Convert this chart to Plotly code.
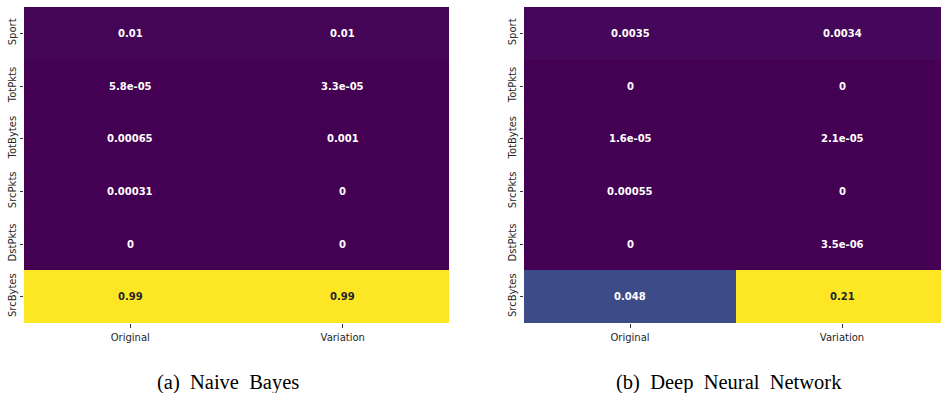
import plotly.graph_objects as go

features = ["Sport", "TotPkts", "TotBytes", "SrcPkts", "DstPkts", "SrcBytes"]
columns = ["Original", "Variation"]

nb_original = [0.01, 5.8e-05, 0.00065, 0.00031, 0, 0.99]
nb_variation = [0.01, 3.3e-05, 0.001, 0, 0, 0.99]

dnn_original = [0.0035, 0, 1.6e-05, 0.00055, 0, 0.048]
dnn_variation = [0.0034, 0, 2.1e-05, 0, 3.5e-06, 0.21]

captions = ["(a)  Naive  Bayes", "(b)  Deep  Neural  Network"]

W, H = 941, 393
# x1 is where the full heatmap would end; the right panel runs past the page edge
panels = [
    dict(orig=nb_original, var=nb_variation, x0=24, x1=449, xa="x", ya="y", cap_x=228),
    dict(orig=dnn_original, var=dnn_variation, x0=524, x1=948, xa="x2", ya="y2", cap_x=729),
]
top, bottom = 7, 323


def text_color(frac):
    # dark text on the light end of viridis, white elsewhere
    return "#262626" if frac > 0.6 else "#ffffff"


fig = go.Figure()
annotations = []
for i, p in enumerate(panels):
    z = [[o, v] for o, v in zip(p["orig"], p["var"])]
    zmin = min(min(r) for r in z)
    zmax = max(max(r) for r in z)
    fig.add_trace(go.Heatmap(
        z=z, x=columns, y=features,
        colorscale="Viridis", zmin=zmin, zmax=zmax,
        showscale=False, xaxis=p["xa"], yaxis=p["ya"], xgap=0, ygap=0,
        hoverinfo="skip",
    ))
    for r, feat in enumerate(features):
        for c, col in enumerate(columns):
            val = z[r][c]
            frac = (val - zmin) / (zmax - zmin) if zmax > zmin else 0
            annotations.append(dict(
                x=col, y=feat, xref=p["xa"], yref=p["ya"],
                text="<b>%s</b>" % format(val, ".2g"),
                showarrow=False,
                font=dict(family="DejaVu Sans", size=10, color=text_color(frac)),
            ))
    annotations.append(dict(
        x=p["cap_x"] / W, y=1 - 382 / H, xref="paper", yref="paper",
        text=captions[i], showarrow=False,
        font=dict(family="Liberation Serif", size=20.5, color="#000000"),
        xanchor="center", yanchor="middle",
    ))

axis_common = dict(
    showgrid=False, zeroline=False, showline=False,
    ticks="outside", ticklen=3.5, tickwidth=0.8, tickcolor="#333333",
    tickfont=dict(family="DejaVu Sans", size=10, color="#262626"),
)

layout = dict(
    width=W, height=H,
    margin=dict(l=0, r=0, t=0, b=0),
    paper_bgcolor="white", plot_bgcolor="white",
    annotations=annotations,
    showlegend=False,
)
for i, p in enumerate(panels):
    sfx = "" if i == 0 else "2"
    right = min(p["x1"], W)
    col_w = (p["x1"] - p["x0"]) / len(columns)
    x_hi = -0.5 + (right - p["x0"]) / col_w
    layout["xaxis" + sfx] = dict(
        axis_common, domain=[p["x0"] / W, right / W],
        anchor="y" + sfx, categoryorder="array", categoryarray=columns,
        range=[-0.5, x_hi], ticklabelstandoff=1,
    )
    layout["yaxis" + sfx] = dict(
        axis_common, domain=[1 - bottom / H, 1 - top / H],
        anchor="x" + sfx, autorange="reversed", tickangle=-90,
        categoryorder="array", categoryarray=features,
    )

fig.update_layout(**layout)
fig.write_html("out.html")
